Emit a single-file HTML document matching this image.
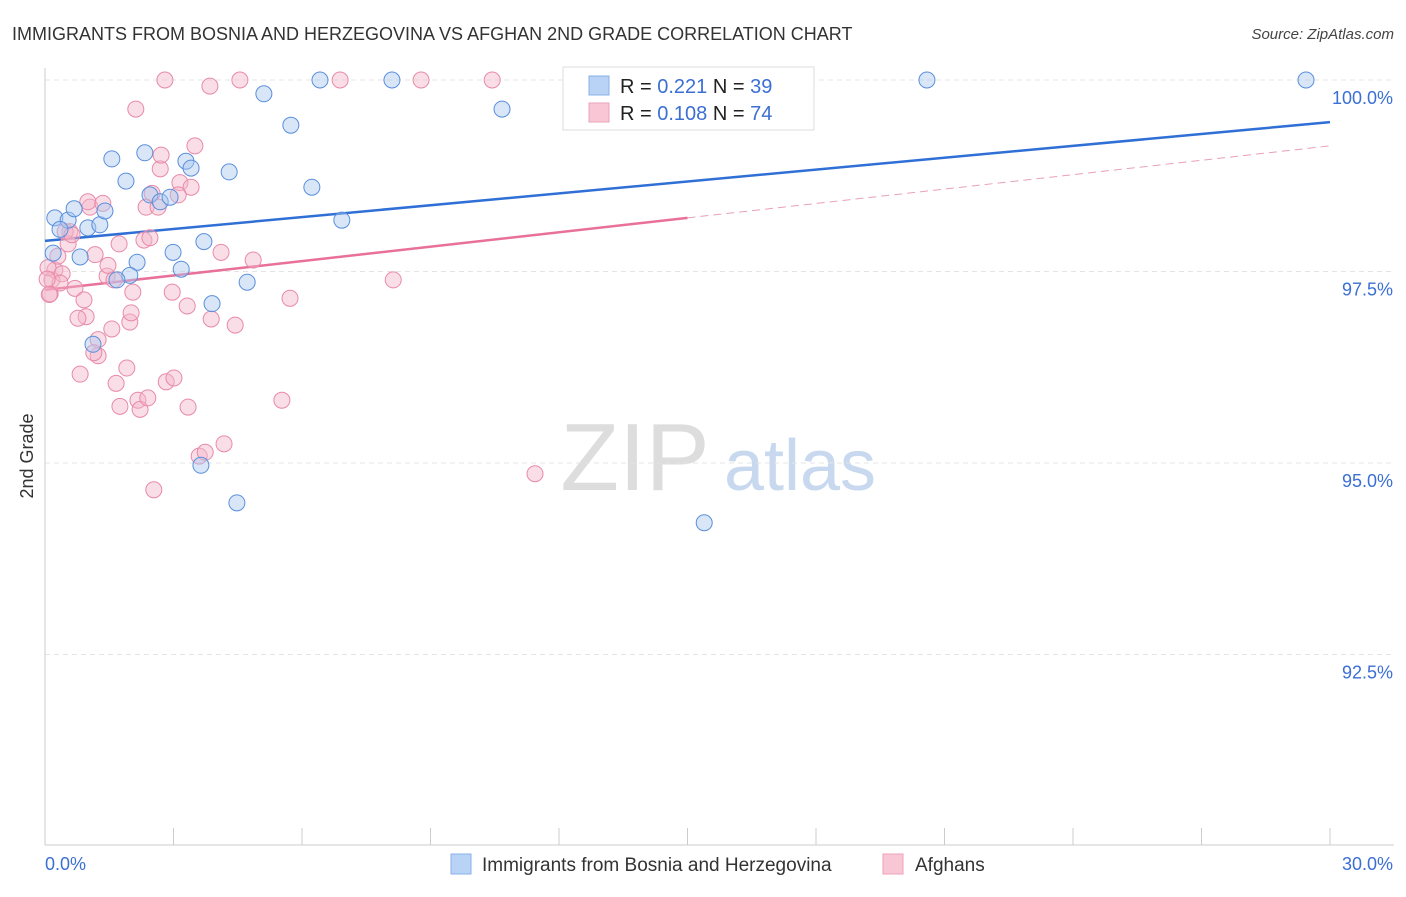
<!DOCTYPE html>
<html><head><meta charset="utf-8"><style>
body{margin:0;background:#fff;font-family:"Liberation Sans",sans-serif;}
svg text{font-family:"Liberation Sans",sans-serif;}
</style></head><body>
<svg id="chart" width="1406" height="892" xmlns="http://www.w3.org/2000/svg">
<text x="12" y="40" font-size="18" fill="#333">IMMIGRANTS FROM BOSNIA AND HERZEGOVINA VS AFGHAN 2ND GRADE CORRELATION CHART</text>
<text x="1394" y="39" font-size="15" fill="#444" font-style="italic" text-anchor="end">Source: ZipAtlas.com</text>
<text transform="translate(33,456) rotate(-90)" font-size="18" fill="#333" text-anchor="middle">2nd Grade</text>
<g>
<text x="635" y="490" font-size="96" fill="#ddd" font-family="Liberation Serif" text-anchor="middle">ZIP</text>
<text x="800" y="490" font-size="72" fill="#c8d8ee" text-anchor="middle">atlas</text>
</g>
<g id="grid"></g><g id="axes"></g><g id="lines"></g><g id="pts"></g>
<g>
<rect x="563" y="67" width="251" height="63" fill="#fff" stroke="#ddd"/>
<rect x="589" y="76" width="20" height="19" fill="#b8d3f5" stroke="#8ab2e8"/>
<rect x="589" y="103" width="20" height="19" fill="#f8c6d5" stroke="#eba3b9"/>
<text x="620" y="93" font-size="20" fill="#222">R = <tspan fill="#3b6fd4">0.221</tspan>   N = <tspan fill="#3b6fd4">39</tspan></text>
<text x="620" y="120" font-size="20" fill="#222">R = <tspan fill="#3b6fd4">0.108</tspan>   N = <tspan fill="#3b6fd4">74</tspan></text>
</g>
<g>
<rect x="451" y="854" width="20" height="20" fill="#b8d3f5" stroke="#8ab2e8"/>
<text x="482" y="871" font-size="19" fill="#333">Immigrants from Bosnia and Herzegovina</text>
<rect x="883" y="854" width="20" height="20" fill="#f8c6d5" stroke="#eba3b9"/>
<text x="915" y="871" font-size="19" fill="#333">Afghans</text>
</g>
</svg>
<script>
const yTicks=[100,97.5,95,92.5];
const yTickLabels=["100.0%","97.5%","95.0%","92.5%"];
const xTicks=[0,3,6,9,12,15,18,21,24,27,30];
const xEndLabels=["0.0%","30.0%"];
const blueX=[.23,.54,.68,.35,1.00,1.28,1.40,.82,.19,1.56,1.89,2.33,2.45,2.69,2.92,3.29,3.41,4.30,2.99,3.18,3.71,3.90,4.72,2.15,1.98,1.68,1.12,3.64,4.48,5.11,5.74,6.23,6.93,6.42,8.10,10.67,15.39,20.59,29.44];
const blueY=[98.20,98.17,98.32,98.05,98.07,98.11,98.29,97.69,97.74,98.97,98.68,99.05,98.50,98.41,98.47,98.94,98.85,98.80,97.75,97.53,97.89,97.08,97.36,97.62,97.45,97.39,96.55,94.97,94.48,99.82,99.41,98.60,98.17,100,100,99.62,94.22,100,100];
const pinkX=[.23,.12,.16,.40,.35,.58,.54,.70,.91,.96,.77,1.17,1.24,1.24,1.14,.82,1.05,1.00,1.35,1.45,1.47,1.61,1.73,1.66,1.75,1.56,1.91,1.98,2.01,2.05,2.17,2.22,2.40,2.31,2.45,2.36,2.50,2.64,2.69,2.71,2.80,2.12,2.83,3.01,2.97,3.15,3.32,3.41,3.50,3.34,3.11,3.60,3.74,3.85,3.88,4.18,4.11,4.44,4.55,4.86,5.72,5.53,6.89,8.13,8.78,10.44,11.44,2.54,.07,.47,.63,.10,.05,.30];
const pinkY=[97.52,97.21,97.39,97.47,97.35,98.02,97.86,97.28,97.13,96.91,96.89,97.72,96.61,96.40,96.44,96.16,98.34,98.41,98.39,97.44,97.58,97.39,97.86,96.04,95.74,96.75,96.24,96.84,96.96,97.23,95.82,95.70,95.85,97.91,97.94,98.34,98.52,98.34,98.84,99.02,100,99.62,96.06,96.11,97.23,98.66,97.05,98.60,99.14,95.73,98.50,95.09,95.14,99.92,96.88,95.25,97.75,96.80,100,97.65,97.15,95.82,100,97.39,100,100,94.86,94.65,97.55,98.02,97.98,97.20,97.40,97.70];
const blueTrend=[[0,97.90],[30,99.45]];
const pinkTrend=[[0,97.26],[15,98.20],[30,99.14]];
const NS="http://www.w3.org/2000/svg";
const X=v=>45+v*(1285/30);
const Y=v=>80+(100-v)*76.6;
function mk(t,a,p){const e=document.createElementNS(NS,t);for(const k in a)e.setAttribute(k,a[k]);document.getElementById(p).appendChild(e);return e;}
yTicks.forEach((t,i)=>{
 const l=mk('line',{x1:45,x2:1394,y1:Y(t),y2:Y(t),stroke:'#e4e4e4','stroke-dasharray':'5,4'},'grid');
 
 
 const tx=mk('text',{x:1393,y:Y(t)+24,'font-size':18,fill:'#3b6fd4','text-anchor':'end'},'grid');
 tx.textContent=yTickLabels[i];
 
 
});
const ya=mk('line',{x1:45,x2:45,y1:68,y2:845,stroke:'#ccc'},'axes');


const xa=mk('line',{x1:45,x2:1394,y1:845,y2:845,stroke:'#ccc'},'axes');


xTicks.forEach(t=>{const e=mk('line',{x1:X(t),x2:X(t),y1:828,y2:845,stroke:'#ccc'},'axes');
 
 });
[[0,45,'start'],[30,1393,'end']].forEach((d,i)=>{const e=mk('text',{x:d[1],y:870,'font-size':18,fill:'#3b6fd4','text-anchor':d[2]},'axes');e.textContent=xEndLabels[i];
 
 });
function dots(xs,ys,fill,stroke,name){xs.forEach((x,i)=>{const c=mk('circle',{cx:X(x),cy:Y(ys[i]),r:8,fill:fill,'fill-opacity':0.45,stroke:stroke,'stroke-width':1},'pts');
 
 });}
dots(pinkX,pinkY,'#f5b5c9','#e88aa8','afghan-point');
dots(blueX,blueY,'#a9c8f0','#5a8fdc','bosnia-point');
const bl=mk('line',{x1:X(blueTrend[0][0]),y1:Y(blueTrend[0][1]),x2:X(blueTrend[1][0]),y2:Y(blueTrend[1][1]),stroke:'#2f6fd6','stroke-width':2.5},'lines');


const pl=mk('line',{x1:X(pinkTrend[0][0]),y1:Y(pinkTrend[0][1]),x2:X(pinkTrend[1][0]),y2:Y(pinkTrend[1][1]),stroke:'#e8709a','stroke-width':2.5},'lines');


const pd=mk('line',{x1:X(pinkTrend[1][0]),y1:Y(pinkTrend[1][1]),x2:X(pinkTrend[2][0]),y2:Y(pinkTrend[2][1]),stroke:'#e8a0b8','stroke-width':1,'stroke-dasharray':'8,5'},'lines');


</script>
</body></html>
